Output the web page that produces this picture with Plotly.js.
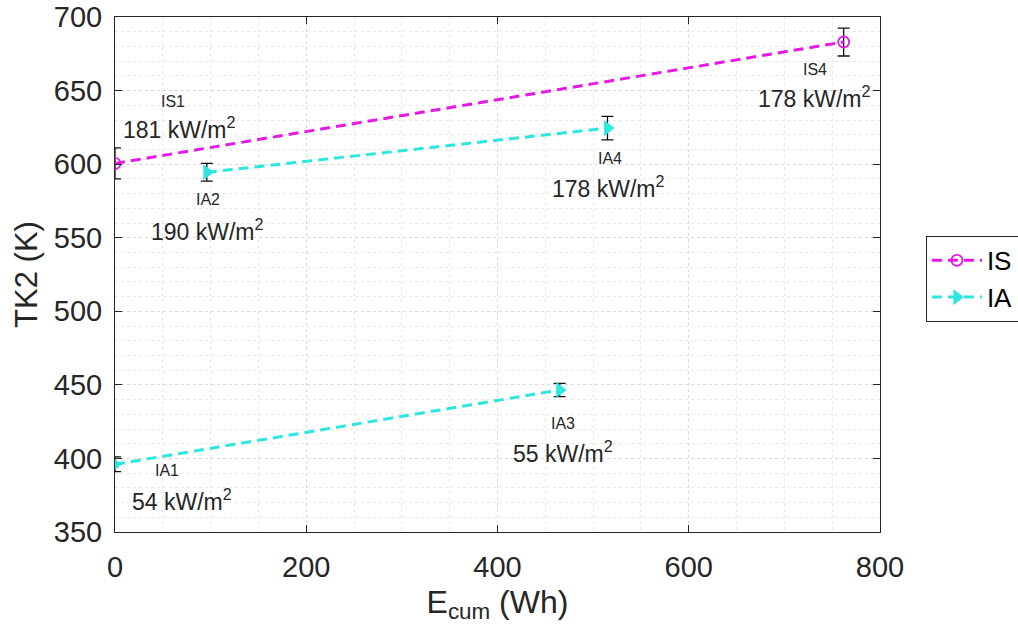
<!DOCTYPE html>
<html><head><meta charset="utf-8">
<script src="https://cdn.plot.ly/plotly-3.0.1.min.js"></script>
<style>html,body{margin:0;padding:0;background:#fff;}#chart{width:1018px;height:638px;}</style>
</head><body><div id="chart"></div>
<script>
const isX = [0, 762];
const isY = [600.5, 683];
const isErr = [10.5, 9.5];
// IA points: two separate runs (IA1 -> IA3) and (IA2 -> IA4)
const iaRunA_X = [0, 465];
const iaRunA_Y = [396, 446.5];
const iaRunA_Err = [5, 4.5];
const iaRunB_X = [96, 515];
const iaRunB_Y = [594.5, 624.5];
const iaRunB_Err = [6, 8];
const labelNames = ['IS1', 'IS4', 'IA1', 'IA2', 'IA3', 'IA4'];
const labelFlux = ['181 kW/m<sup>2</sup>', '178 kW/m<sup>2</sup>', '54 kW/m<sup>2</sup>', '190 kW/m<sup>2</sup>', '55 kW/m<sup>2</sup>', '178 kW/m<sup>2</sup>'];
const nameX = [61, 732, 54, 97, 468, 518];
const nameY = [642.5, 664, 392, 576, 424, 604];
const fluxX = [67, 732, 70, 97, 468, 516];
const fluxY = [624.5, 645.5, 372, 555, 404.5, 584.5];

const font = 'Liberation Sans, Arial, Helvetica, sans-serif';
const txt = '#262626';
const mag = '#e619e6';
const cya = '#2ee6e0';

const iaX = iaRunA_X.concat([null], iaRunB_X);
const iaY = iaRunA_Y.concat([null], iaRunB_Y);
const iaErr = iaRunA_Err.concat([0], iaRunB_Err);

const traces = [
  {x: isX, y: isY, name: 'IS', type: 'scatter', mode: 'lines+markers',
   line: {color: mag, width: 3, dash: '10px,6px'},
   marker: {symbol: 'circle-open', size: 11, color: mag, line: {width: 1.8, color: mag}},
   error_y: {type: 'data', array: isErr, visible: true, color: '#111', thickness: 1.3, width: 6}},
  {x: iaX, y: iaY, name: 'IA', type: 'scatter', mode: 'lines+markers', connectgaps: false,
   line: {color: cya, width: 3, dash: '10px,6px'},
   marker: {symbol: 'triangle-right', size: 14, color: cya},
   error_y: {type: 'data', array: iaErr, visible: true, color: '#111', thickness: 1.3, width: 6}}
];

const annotations = [];
for (let i = 0; i < labelNames.length; i++) {
  annotations.push({x: nameX[i], y: nameY[i], xref: 'x', yref: 'y', text: labelNames[i], showarrow: false,
    font: {family: font, size: 16, color: txt}});
  annotations.push({x: fluxX[i], y: fluxY[i], xref: 'x', yref: 'y', text: labelFlux[i], showarrow: false,
    font: {family: font, size: 23, color: txt}});
}

const layout = {
  width: 1018, height: 638,
  margin: {l: 115, r: 138, t: 17, b: 106, pad: 0, autoexpand: false},
  paper_bgcolor: '#fff', plot_bgcolor: '#fff',
  font: {family: font, color: txt},
  showlegend: true,
  legend: {x: 1.06, y: 0.575, xanchor: 'left', yanchor: 'top', bgcolor: '#fff', bordercolor: '#262626', borderwidth: 1,
    font: {family: font, size: 26, color: '#000'}, tracegroupgap: 0, itemwidth: 50},
  xaxis: {range: [0, 800], dtick: 200, tick0: 0, ticks: 'inside', ticklen: 7, tickcolor: txt,
    showline: true, linecolor: txt, linewidth: 1, mirror: 'ticks', zeroline: false,
    showgrid: true, gridcolor: '#d9d9d9', griddash: 'dot', gridwidth: 1,
    minor: {dtick: 50, showgrid: true, gridcolor: '#e8e8e8', griddash: 'dot', ticks: ''},
    tickfont: {family: font, size: 29, color: txt}, ticklabelstandoff: 9,
    title: {text: 'E<sub>cum</sub> (Wh)', font: {family: font, size: 32, color: txt}, standoff: 8}},
  yaxis: {range: [350, 700], dtick: 50, tick0: 350, ticks: 'inside', ticklen: 7, tickcolor: txt,
    showline: true, linecolor: txt, linewidth: 1, mirror: 'ticks', zeroline: false,
    showgrid: true, gridcolor: '#d9d9d9', griddash: 'dot', gridwidth: 1,
    minor: {dtick: 10, showgrid: true, gridcolor: '#e8e8e8', griddash: 'dot', ticks: ''},
    tickfont: {family: font, size: 29, color: txt}, ticklabelstandoff: 6,
    title: {text: 'TK2 (K)', font: {family: font, size: 31, color: txt}, standoff: 6}},
  annotations: annotations
};

Plotly.newPlot('chart', traces, layout, {displayModeBar: false, staticPlot: true});
</script></body></html>
